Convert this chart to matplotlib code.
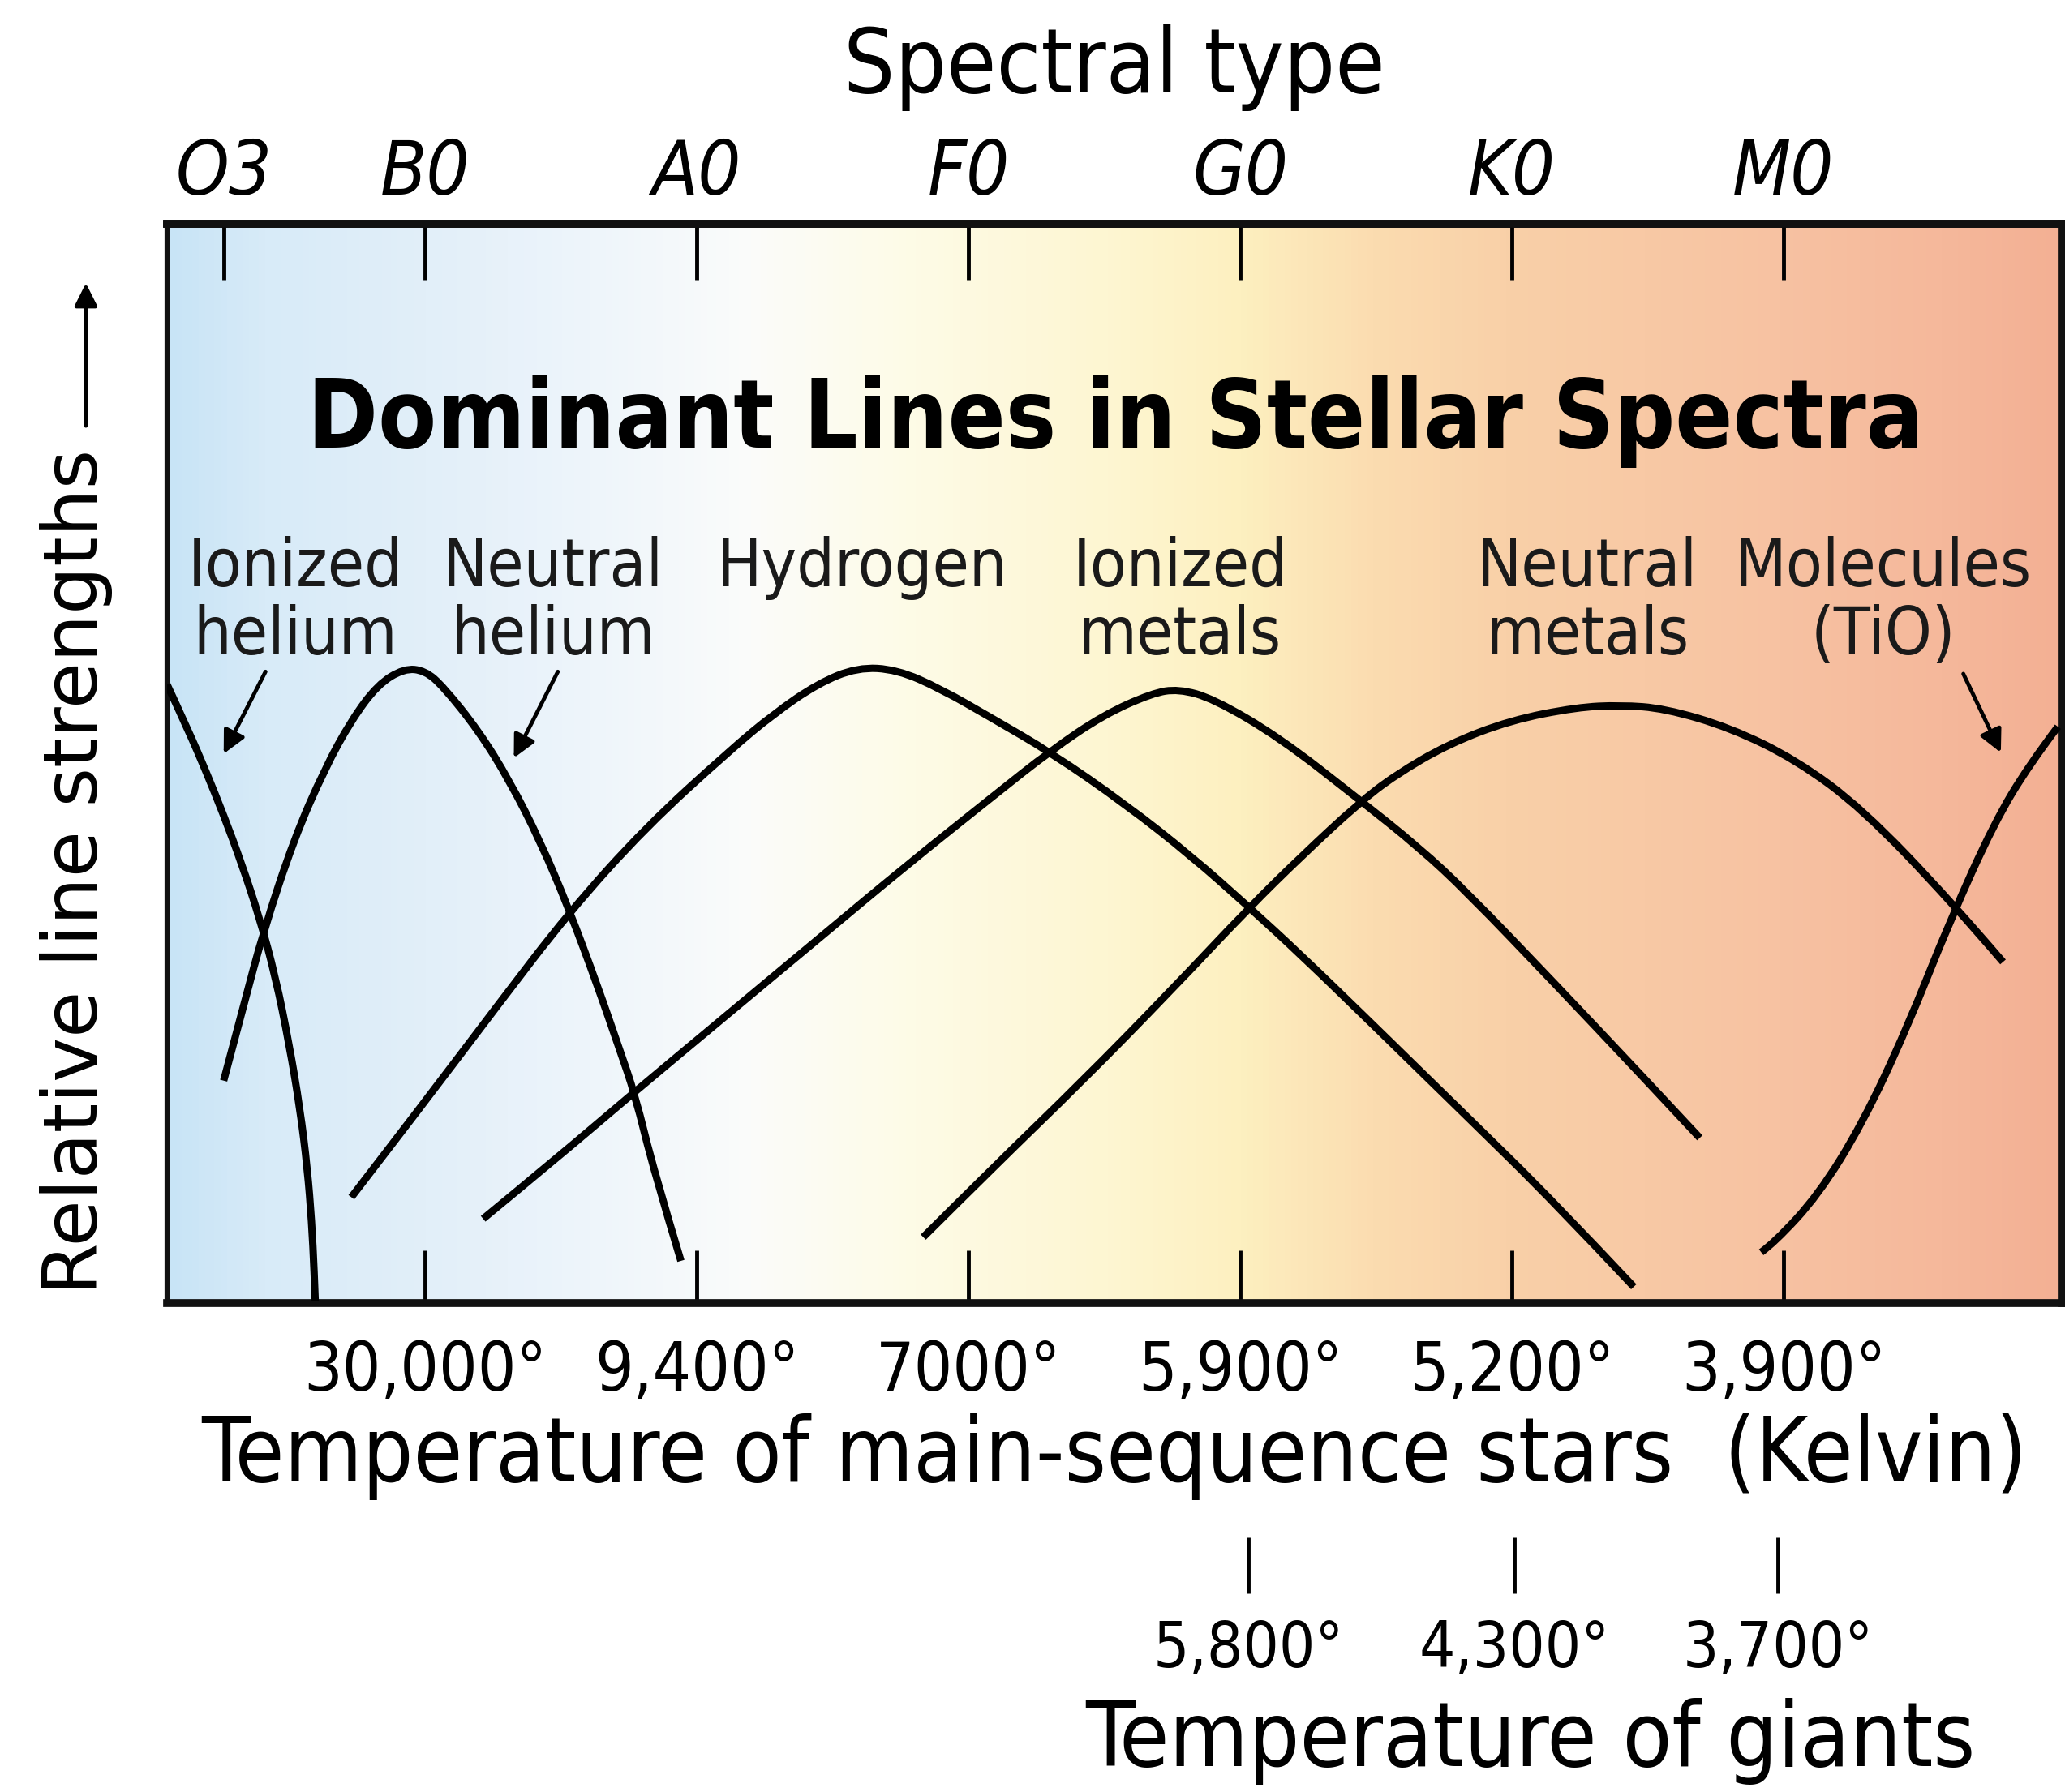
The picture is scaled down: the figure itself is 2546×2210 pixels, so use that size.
import matplotlib
matplotlib.use("Agg")
import matplotlib.pyplot as plt
import numpy as np
from matplotlib import font_manager as fm
from matplotlib.colors import LinearSegmentedColormap
from matplotlib.path import Path
from matplotlib.patches import PathPatch

# spectral types along the top, temperatures along the bottom
spectral_types = ['O3', 'B0', 'A0', 'F0', 'G0', 'K0', 'M0']
spectral_pos = [0.26, 1, 2, 3, 4, 5, 6]
ms_temps = ['30,000°', '9,400°', '7000°', '5,900°', '5,200°', '3,900°']
ms_pos = [1, 2, 3, 4, 5, 6]
giant_temps = ['5,800°', '4,300°', '3,700°']
giant_pos = [4.03, 5.01, 5.98]

# relative line strengths, x in spectral-type units
ion_he_x = [0.051, 0.130, 0.195, 0.259, 0.324, 0.391, 0.450, 0.500, 0.540, 0.567, 0.583, 0.592, 0.596]
ion_he_y = [0.573, 0.530, 0.492, 0.452, 0.408, 0.357, 0.302, 0.240, 0.180, 0.125, 0.075, 0.030, 0.002]

neu_he_x = [0.259, 0.332, 0.405, 0.518, 0.631, 0.729, 0.826, 0.923, 1.000, 1.068, 1.198, 1.311,
            1.424, 1.530, 1.635, 1.716, 1.772, 1.845, 1.942]
neu_he_y = [0.206, 0.275, 0.344, 0.430, 0.495, 0.540, 0.573, 0.588, 0.586, 0.571, 0.530, 0.484,
            0.428, 0.365, 0.294, 0.235, 0.194, 0.120, 0.039]

hyd_x = [0.729, 1.004, 1.262, 1.530, 1.813, 2.122, 2.284, 2.446, 2.592, 2.737, 2.899, 3.093,
         3.304, 3.579, 3.821, 4.032, 4.226, 4.468, 4.659, 4.834, 5.158, 5.449]
hyd_y = [0.098, 0.188, 0.274, 0.362, 0.441, 0.512, 0.546, 0.574, 0.589, 0.587, 0.569, 0.541,
         0.510, 0.462, 0.414, 0.367, 0.322, 0.263, 0.216, 0.173, 0.093, 0.015]

ion_met_x = [1.214, 1.489, 1.764, 2.055, 2.298, 2.446, 2.770, 3.093, 3.304, 3.498, 3.676, 3.773,
             3.902, 4.145, 4.436, 4.659, 4.834, 5.158, 5.481, 5.692]
ion_met_y = [0.078, 0.135, 0.194, 0.255, 0.306, 0.337, 0.405, 0.470, 0.512, 0.545, 0.565, 0.569,
             0.560, 0.524, 0.467, 0.422, 0.381, 0.296, 0.210, 0.153]

neu_met_x = [2.834, 3.093, 3.417, 3.740, 4.032, 4.226, 4.436, 4.570, 4.767, 4.996, 5.239, 5.400,
             5.562, 5.805, 6.048, 6.290, 6.614, 6.808]
neu_met_y = [0.061, 0.126, 0.205, 0.288, 0.366, 0.414, 0.463, 0.489, 0.518, 0.540, 0.552, 0.554,
             0.551, 0.533, 0.503, 0.458, 0.373, 0.316]

tio_x = [5.918, 5.967, 6.128, 6.290, 6.452, 6.614, 6.776, 6.905, 7.010]
tio_y = [0.047, 0.056, 0.100, 0.166, 0.253, 0.355, 0.445, 0.499, 0.534]


def find_font(name):
    for f in fm.fontManager.ttflist:
        if f.fname.endswith(name):
            return f.fname
    return None


cond = find_font('DejaVuSansCondensed.ttf')
cond_b = find_font('DejaVuSansCondensed-Bold.ttf')
cond_i = find_font('DejaVuSansCondensed-Oblique.ttf')


def font(size, path=None, **kw):
    if path:
        return fm.FontProperties(fname=path, size=size)
    return fm.FontProperties(family='DejaVu Sans', size=size, **kw)


def smooth_curve(xs, ys):
    # quadratic spline through the read points' midpoints, drawn by matplotlib
    pts = np.column_stack([xs, ys])
    verts = [pts[0]]
    codes = [Path.MOVETO]
    for i in range(1, len(pts) - 1):
        end = pts[-1] if i == len(pts) - 2 else (pts[i] + pts[i + 1]) / 2
        verts += [pts[i], end]
        codes += [Path.CURVE3, Path.CURVE3]
    return Path(verts, codes)


fig = plt.figure(figsize=(25.46, 22.10), dpi=100)
ax = fig.add_axes([0.0809, 0.2729, 0.9175, 0.6022])
ax.set_xlim(0.0507, 7.024)
ax.set_ylim(0, 1)

# background colour band from hot (blue) to cool (red) stars
bg_stops = [0.0507, 0.4, 1.0, 1.6, 2.2, 2.8, 3.5, 4.0, 4.5, 5.0, 6.0, 6.6, 7.024]
bg_colors = ['#c8e4f6', '#d8ebf8', '#e2eff9', '#eef5fb', '#fbfcfa', '#fefbe6', '#fdf6d2',
             '#fdf0c0', '#fbdcb0', '#f9d0a8', '#f7c2a2', '#f5b89b', '#f3b094']
nodes = [(s - bg_stops[0]) / (bg_stops[-1] - bg_stops[0]) for s in bg_stops]
cmap = LinearSegmentedColormap.from_list('stars', list(zip(nodes, bg_colors)))
grad = np.linspace(0, 1, 600).reshape(1, -1)
ax.imshow(grad, cmap=cmap, aspect='auto', extent=[bg_stops[0], bg_stops[-1], 0, 1], zorder=0)

for xs, ys in [(ion_he_x, ion_he_y), (neu_he_x, neu_he_y), (hyd_x, hyd_y),
               (ion_met_x, ion_met_y), (neu_met_x, neu_met_y), (tio_x, tio_y)]:
    ax.add_patch(PathPatch(smooth_curve(xs, ys), facecolor='none', edgecolor='black',
                           lw=6.5, capstyle='butt', joinstyle='round', zorder=3))

lab_fp = font(59, cond)
labels = [(['Ionized', 'helium'], 0.522), (['Neutral', 'helium'], 1.472), (['Hydrogen'], 2.609),
          (['Ionized', 'metals'], 3.779), (['Neutral', 'metals'], 5.278),
          (['Molecules', '(TiO)'], 6.367)]
for lines, xc in labels:
    for k, s in enumerate(lines):
        ax.text(xc, 0.6645 - k * 0.0635, s, ha='center', va='baseline', fontproperties=lab_fp,
                color='#1a1a1a', zorder=4)

for tail, tip in [((0.413, 0.585), (0.259, 0.509)), ((1.489, 0.585), (1.327, 0.505)),
                  ((6.662, 0.583), (6.800, 0.510))]:
    ax.annotate('', xy=tip, xytext=tail,
                arrowprops=dict(arrowstyle='-|>', lw=3.5, color='black', mutation_scale=42,
                                shrinkA=0, shrinkB=0), zorder=4)

ax.text(3.54, 0.7926, 'Dominant Lines in Stellar Spectra', ha='center', va='baseline',
        fontproperties=font(84, cond_b, weight='bold'), color='black', zorder=4)

# frame
ax.set_yticks([])
for side, w in [('top', 7), ('bottom', 7), ('left', 4.5), ('right', 7)]:
    ax.spines[side].set_linewidth(w)
    ax.spines[side].set_color('#111111')

# bottom: main-sequence temperatures
ax.set_xticks(ms_pos)
ax.set_xticklabels(ms_temps, fontproperties=font(60, cond))
ax.tick_params(axis='x', direction='in', length=47, width=3.5, pad=32, colors='black')
ax.set_xlabel('Temperature of main-sequence stars  (Kelvin)', fontproperties=font(79, cond),
              labelpad=8)

# top: spectral type
top = ax.secondary_xaxis('top')
top.set_xticks(spectral_pos)
top.set_xticklabels(spectral_types, fontproperties=font(67, cond_i, style='italic'))
top.tick_params(axis='x', direction='in', length=50, width=3.5, pad=12)
top.spines['top'].set_linewidth(7)
top.set_xlabel('Spectral type', fontproperties=font(80, cond), labelpad=40)

# lower scale: giant temperatures
giants = ax.secondary_xaxis(-0.2171)
giants.set_xticks(giant_pos)
giants.set_xticklabels(giant_temps, fontproperties=font(56, cond))
giants.tick_params(axis='x', direction='out', length=50, width=3.5, pad=22)
for sp in giants.spines.values():
    sp.set_visible(False)
giants.set_xlabel('Temperature of giants', fontproperties=font(80, cond), labelpad=16,
                  x=0.7196)

# y label with arrow
fig.text(0.0369, 0.5136, 'Relative line strengths', rotation=90, ha='center', va='center',
         fontproperties=font(67))
ax.annotate('', xy=(0.0416, 0.842), xytext=(0.0416, 0.7624), xycoords='figure fraction',
            textcoords='figure fraction',
            arrowprops=dict(arrowstyle='-|>', lw=3.5, color='black', mutation_scale=42,
                            shrinkA=0, shrinkB=0))

fig.savefig('out.png', dpi=100, facecolor='white')
